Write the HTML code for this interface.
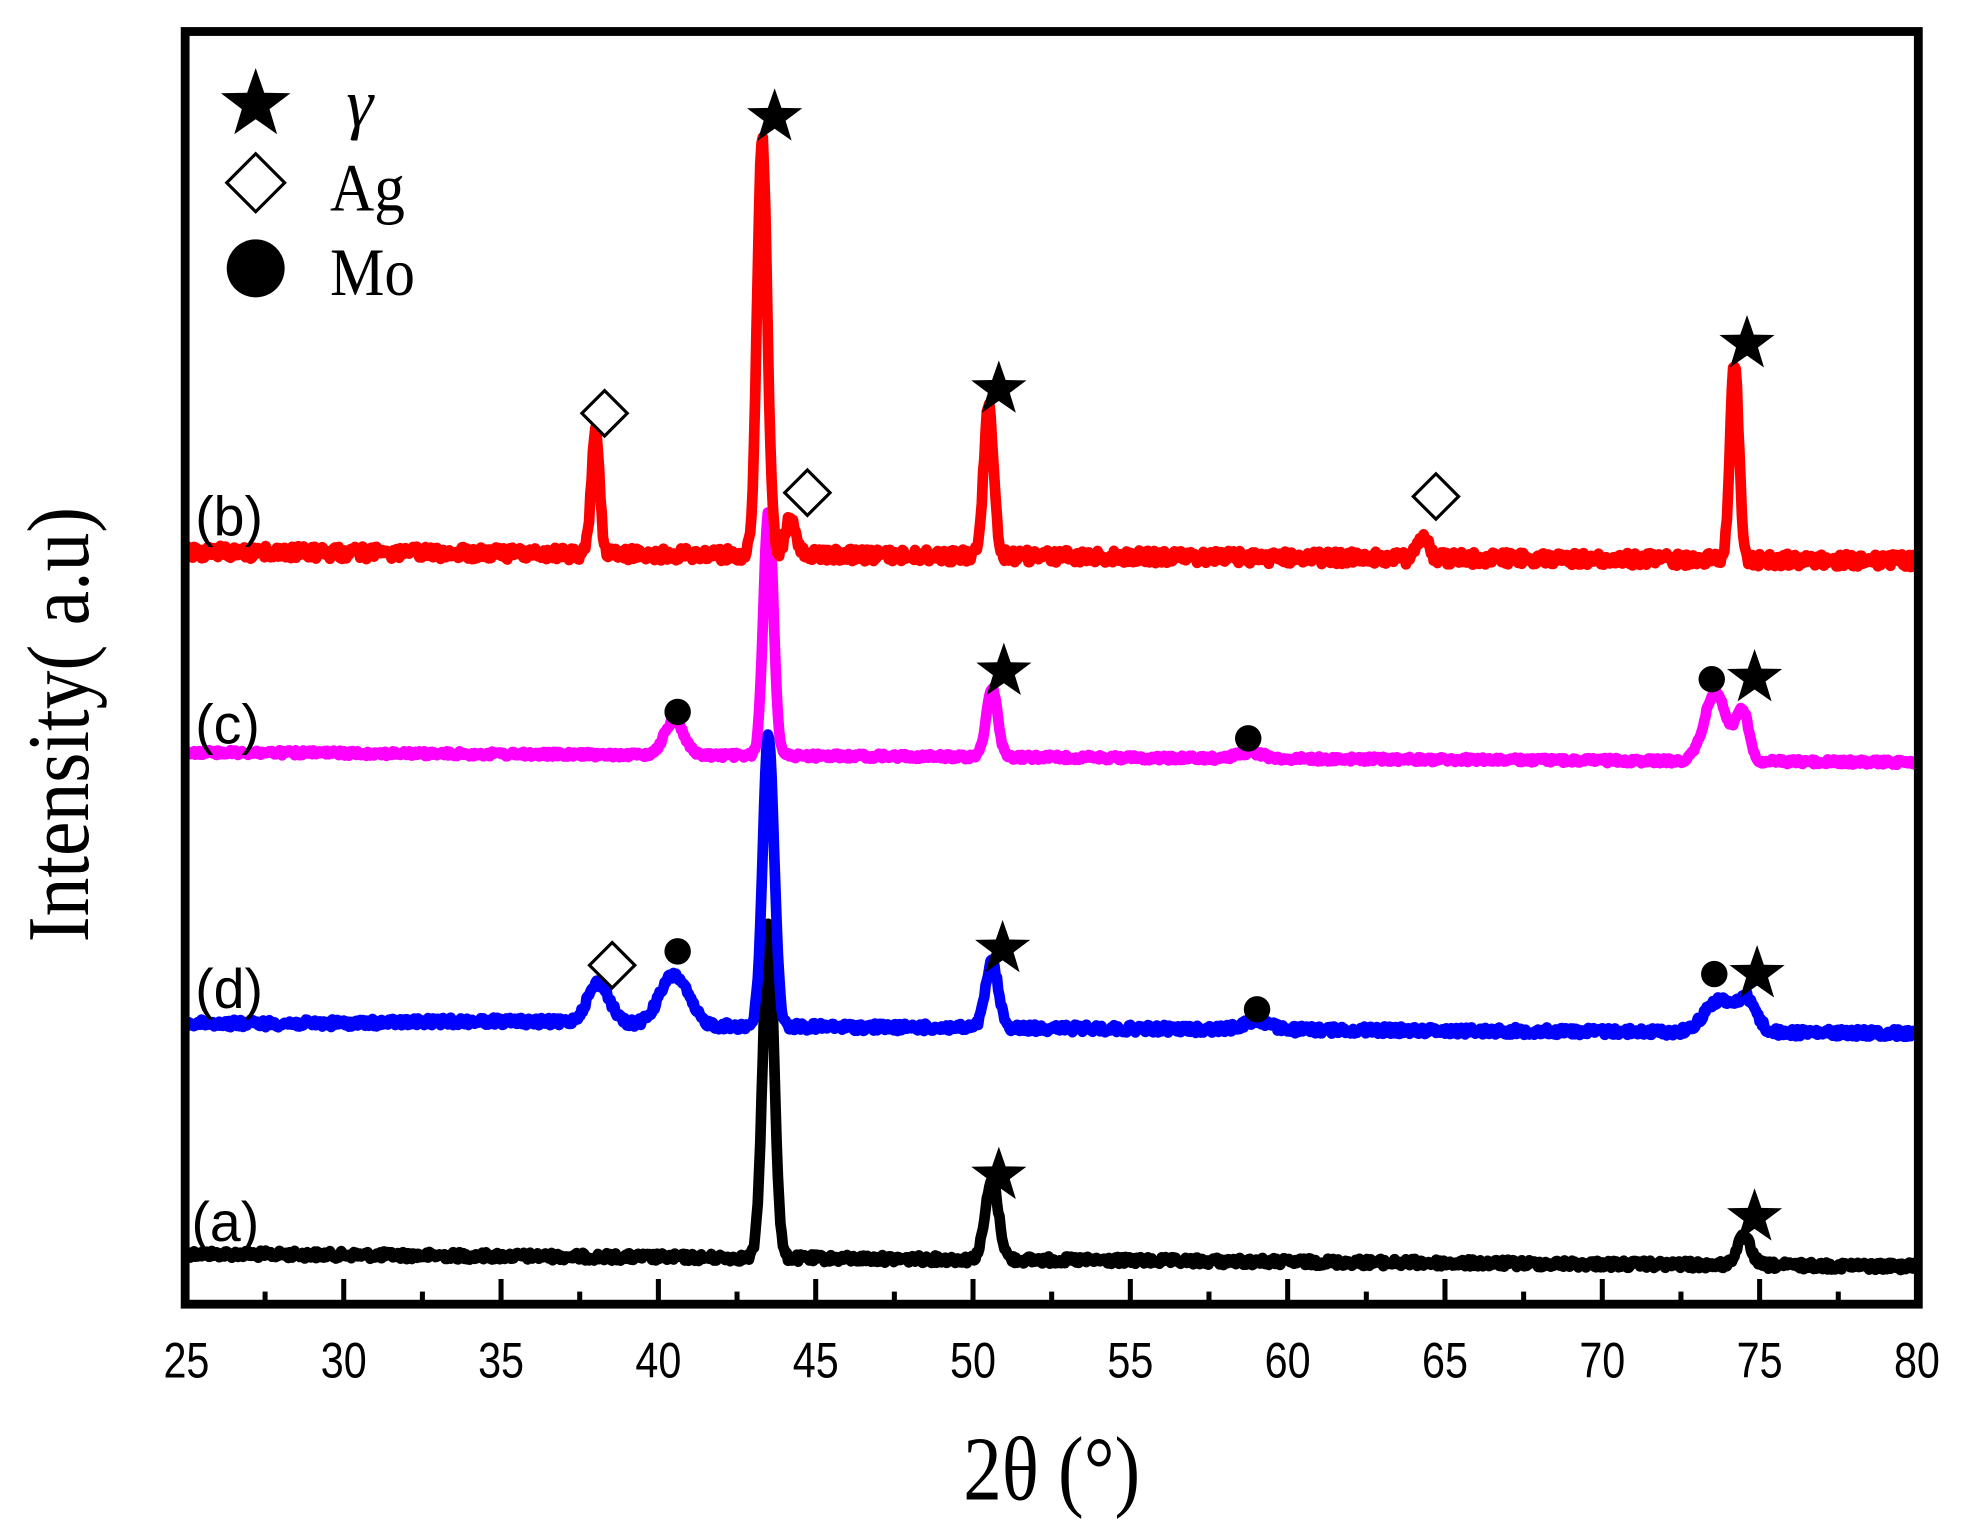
<!DOCTYPE html>
<html><head><meta charset="utf-8"><style>
html,body{margin:0;padding:0;background:#fff;}
svg{display:block;}
</style></head><body>
<svg id="s" width="1975" height="1531" viewBox="0 0 1568 1215" preserveAspectRatio="none" xmlns="http://www.w3.org/2000/svg">
<rect width="1568" height="1215" fill="#fff"/>
<g id="series" fill="none" stroke-linejoin="round" stroke-linecap="round"></g>
<rect x="147" y="25" width="1376" height="1010" fill="none" stroke="#000" stroke-width="7"/>
<g id="ticks" stroke="#000" stroke-width="4"></g>
<g font-family="Liberation Sans, sans-serif" font-size="40" text-anchor="middle" id="tl"></g>
<text transform="translate(835,1190) scale(0.85,1)" font-family="Liberation Serif, serif" font-size="72" text-anchor="middle">2θ (°)</text>
<text transform="translate(70,575) rotate(-90) scale(0.88,1)" font-family="Liberation Serif, serif" font-size="70" text-anchor="middle">Intensity( a.u)</text>
<g font-family="Liberation Sans, sans-serif" font-size="44">
<text x="155" y="425">(b)</text>
<text x="155" y="590">(c)</text>
<text x="155" y="800">(d)</text>
<text x="152" y="985">(a)</text>
</g>
<g id="marks"></g>
<g font-family="Liberation Serif, serif" font-size="54">
<text x="275" y="100" font-style="italic">γ</text>
<text transform="translate(262,167) scale(0.9,1)">Ag</text>
<text transform="translate(262,234) scale(0.9,1)">Mo</text>
</g>
</svg>
<script>
var NS="http://www.w3.org/2000/svg";
function X(d){return 148+(d-25)*24.98;}
var seed=12345;function rnd(){seed=(seed*1103515245+12345)%2147483648;return seed/2147483648;}
function el(t,a,p){var e=document.createElementNS(NS,t);for(var k in a)e.setAttribute(k,a[k]);document.getElementById(p).appendChild(e);return e;}
for(var d=27.5;d<80;d+=2.5){var maj=Math.abs(d%5)<0.01;el('line',{x1:X(d),x2:X(d),y1:1032,y2:maj?1015:1025},'ticks');}
for(var d=25;d<=80;d+=5){var t=el('text',{transform:'translate('+X(d)+',1093) scale(0.82,1)'},'tl');t.textContent=d;}
var S=[
 {c:'#000',b0:995,b1:1005,n:3,pk:[[43.5,265,0.18],[50.6,62,0.21],[74.5,22,0.22]]},
 {c:'#0000ff',b0:812,b1:820,n:3,pk:[[43.5,232,0.18],[50.6,52,0.2],[38.1,32,0.35],[40.5,40,0.45],[59,7,0.4],[73.7,25,0.45],[74.6,25,0.3],[35,3,3]]},
 {c:'#ff00ff',b0:597,b1:605,n:2,pk:[[43.5,195,0.16],[50.6,55,0.18],[40.5,28,0.3],[58.8,5,0.4],[73.6,55,0.35],[74.45,40,0.2]]},
 {c:'#ff0000',b0:438,b1:445,n:5,pk:[[43.3,330,0.16],[38.0,97,0.13],[44.2,30,0.16],[50.5,118,0.16],[64.3,20,0.16],[74.2,158,0.14]]}
];
S.forEach(function(s){var p='';for(var d=25;d<=80;d+=0.04){var y=s.b0+(s.b1-s.b0)*(d-25)/55;s.pk.forEach(function(k){y-=k[1]*Math.exp(-Math.pow((d-k[0])/k[2],2)/2);});y+=(rnd()-0.5)*s.n*2;p+=(p?'L':'M')+X(d).toFixed(1)+' '+y.toFixed(1);}
el('path',{d:p,stroke:s.c,'stroke-width':8.5},'series');});
function star(cx,cy,r){var p='';for(var i=0;i<10;i++){var a=-Math.PI/2+i*Math.PI/5,rr=i%2?r*0.4:r;p+=(i?'L':'M')+(cx+rr*Math.cos(a)).toFixed(1)+' '+(cy+rr*Math.sin(a)).toFixed(1);}el('path',{d:p+'Z',fill:'#000'},'marks');}
function dia(cx,cy,r){el('path',{d:'M'+cx+' '+(cy-r)+'L'+(cx+r)+' '+cy+'L'+cx+' '+(cy+r)+'L'+(cx-r)+' '+cy+'Z',fill:'#fff',stroke:'#000','stroke-width':2.5},'marks');}
function dot(cx,cy,r){el('circle',{cx:cx,cy:cy,r:r,fill:'#000'},'marks');}
[[615,93],[793,309],[1387,273],[797,533],[1393,538],[796,753],[1395,773],[793,933],[1393,966]].forEach(function(a){star(a[0],a[1],23);});
[[480,328],[641,391],[1140,394],[486,766]].forEach(function(a){dia(a[0],a[1],18);});
[[538,565],[991,586],[1359,539],[538,755],[998,801],[1361,773]].forEach(function(a){dot(a[0],a[1],10.5);});
star(203,83,29);dia(203,145,23);dot(203,213,23);
</script>
</body></html>
